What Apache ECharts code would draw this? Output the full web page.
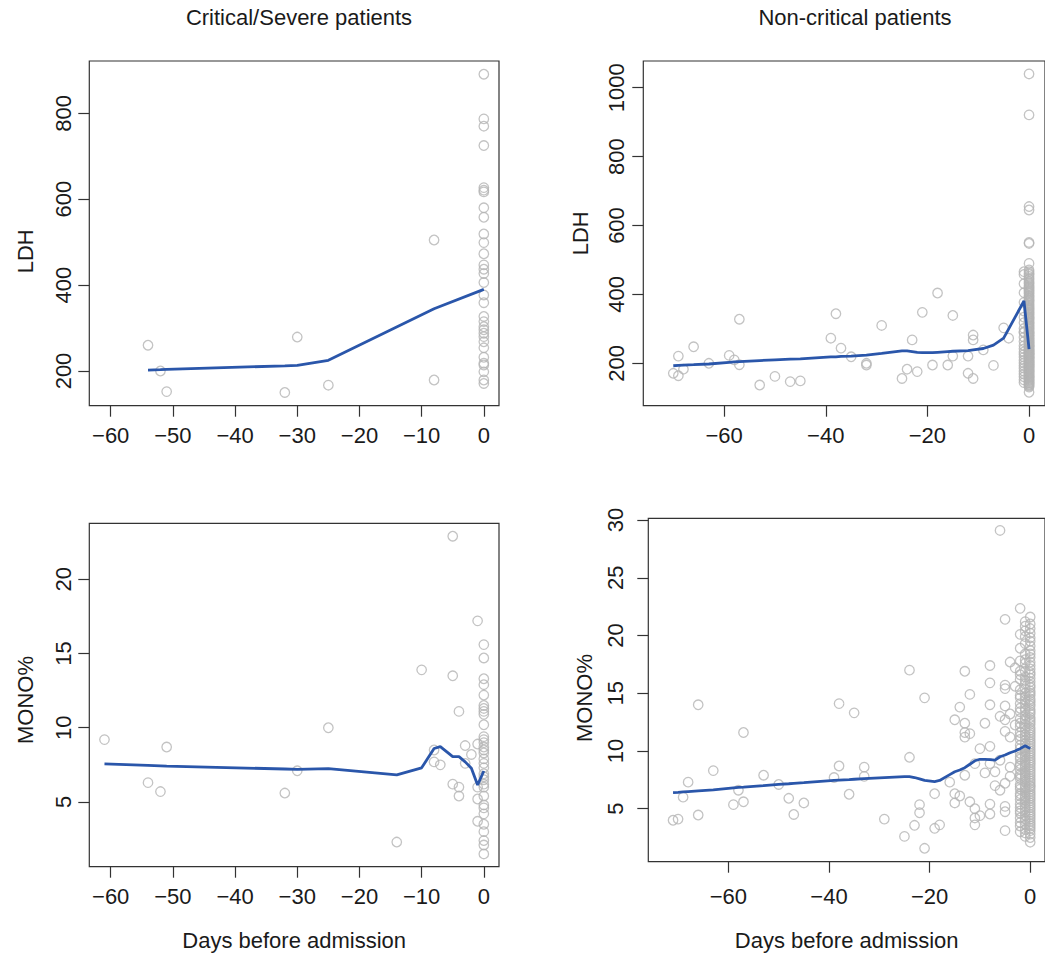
<!DOCTYPE html>
<html>
<head>
<meta charset="utf-8">
<script src="https://cdn.jsdelivr.net/npm/echarts@6/dist/echarts.min.js"></script>
<style>
html,body{margin:0;padding:0;background:#fff;}
#chart{width:1045px;height:955px;}
</style>
</head>
<body>
<div id="chart"></div>
<script>
// ---------- Titles / labels ----------
const panelTitles = ['Critical/Severe patients', 'Non-critical patients'];
const xAxisTitle = 'Days before admission';
const yAxisTitles = ['LDH', 'MONO%'];

// ---------- Tick labels ----------
const critXTicks = [-60, -50, -40, -30, -20, -10, 0];
const ncXTicks = [-60, -40, -20, 0];
const critLdhYTicks = [200, 400, 600, 800];
const ncLdhYTicks = [200, 400, 600, 800, 1000];
const critMonoYTicks = [5, 10, 15, 20];
const ncMonoYTicks = [5, 10, 15, 20, 25, 30];

// ---------- Critical/Severe: LDH ----------
const critLdhDays = [-54, -52, -51, -32, -30, -25, -8, -8];
const critLdhVals = [260, 200, 152, 150, 279, 167, 505, 179];
const critLdhDay0 = [891, 787, 770, 725, 627, 621, 617, 580, 558, 519, 499, 473, 447, 437, 427, 406,
  377, 359, 327, 315, 303, 296, 288, 280, 268, 254, 232, 218, 214, 198, 179, 171];
const critLdhFitDays = [-54, -52, -51, -32, -30, -25, -8, 0];
const critLdhFitVals = [202, 203, 204, 212, 213, 225, 345, 390];

// ---------- Critical/Severe: MONO% ----------
const critMonoDays = [-61, -54, -52, -51, -32, -30, -25, -14, -10, -8, -8, -7, -5, -5, -5, -4, -4, -4, -3, -3, -2, -1, -1, -1, -1, -1];
const critMonoVals = [9.2, 6.3, 5.7, 8.7, 5.6, 7.1, 10.0, 2.3, 13.9, 8.5, 7.7, 7.5, 22.9, 13.5, 6.2, 11.1, 6.0, 5.4, 8.8, 7.6, 8.2, 17.2, 8.9, 6.0, 5.2, 3.7];
const critMonoDay0 = [15.6, 14.7, 13.3, 12.9, 12.2, 11.5, 11.3, 11.1, 10.9, 10.2, 9.4, 9.2, 9.0, 8.7, 8.5, 8.3, 7.9,
  7.6, 7.3, 6.9, 6.7, 6.5, 6.2, 6.0, 5.4, 4.8, 4.6, 4.2, 3.5, 3.0, 2.4, 2.1, 1.5];
const critMonoFitDays = [-61, -54, -52, -51, -32, -30, -25, -14, -10, -8, -7, -5, -4, -3, -2, -1, 0];
const critMonoFitVals = [7.56, 7.46, 7.43, 7.41, 7.22, 7.2, 7.24, 6.82, 7.3, 8.6, 8.73, 8.05, 8.05, 7.7, 7.27, 6.14, 7.09];

// ---------- Non-critical: LDH ----------
const ncLdhDays = [-70, -69, -69, -68, -66, -63, -59, -58, -57, -57, -53, -50, -47, -45, -39, -38, -37, -35, -32, -32,
  -29, -25, -24, -23, -22, -21, -19, -18, -16, -15, -15, -12, -12, -11, -11, -11, -9, -7, -5, -4, -1, -1];
const ncLdhVals = [171, 221, 164, 183, 248, 200, 223, 210, 328, 196, 137, 162, 147, 149, 273, 344, 244, 219, 200, 195,
  310, 156, 183, 268, 176, 348, 195, 404, 195, 339, 221, 221, 171, 282, 268, 156, 239, 194, 303, 273, 466, 292];
const ncLdhDayM1 = [458, 431, 405, 377, 352, 334, 318, 301, 289, 276, 263, 251, 242, 233, 226, 218, 209, 201, 193,
  186, 177, 169, 161, 152, 144];
const ncLdhDay0 = [1040, 921, 655, 645, 551, 548, 490, 471, 466, 461, 458, 452, 447, 443, 438, 434, 431, 426, 422, 419,
  416, 412, 409, 405, 402, 397, 394, 390, 387, 383, 381, 377, 373, 369, 366, 362, 359, 356, 353, 349, 347, 343, 340,
  336, 333, 331, 328, 325, 321, 318, 316, 312, 309, 306, 303, 300, 298, 294, 291, 289, 287, 284, 281, 279, 276, 273,
  271, 268, 266, 263, 261, 259, 257, 254, 252, 250, 248, 246, 243, 241, 239, 237, 235, 233, 231, 229, 227, 226, 224,
  221, 219, 217, 216, 214, 211, 209, 207, 205, 203, 201, 199, 197, 195, 193, 191, 189, 187, 184, 183, 180, 178, 176,
  174, 171, 169, 167, 164, 162, 160, 158, 155, 153, 151, 149, 146, 144, 142, 139, 137, 134, 131, 116];
const ncLdhFitDays = [-70, -69, -68, -66, -63, -59, -58, -57, -53, -50, -47, -45, -39, -38, -37, -35, -32, -29, -25, -24,
  -23, -22, -21, -19, -18, -16, -15, -12, -11, -9, -7, -5, -4, -1, 0];
const ncLdhFitVals = [193, 194, 195, 196, 198, 203, 204, 205, 208, 210, 212, 213, 219, 219, 220, 221, 224, 229, 236, 236,
  234, 232, 231, 231, 232, 234, 235, 237, 239, 243, 253, 273, 300, 381, 241];

// ---------- Non-critical: MONO% ----------
const ncMonoDays = [-71, -70, -69, -68, -66, -66, -63, -59, -58, -57, -57, -53, -50, -48, -47, -45, -39, -38, -38, -36,
  -35, -33, -33, -29, -25, -24, -24, -23, -22, -22, -21, -21, -19, -19, -18, -16, -15, -15, -15, -14, -14, -13, -13, -13,
  -13, -13, -12, -12, -12, -11, -11, -11, -11, -10, -10, -9, -9, -8, -8, -8, -8, -8, -8, -8, -7, -7, -6, -6, -6, -6,
  -5, -5, -5, -5, -5, -5, -5, -5, -5, -5, -4, -4, -4, -4, -4, -3, -3, -3, -2, -2, -2, -2, -2, -1, -1];
const ncMonoVals = [4.0, 4.1, 6.0, 7.3, 14.0, 4.45, 8.3, 5.35, 6.6, 11.6, 5.6, 7.9, 7.1, 5.9, 4.5, 5.5, 7.7, 14.1, 8.7, 6.25,
  13.3, 8.6, 7.8, 4.1, 2.6, 17.0, 9.45, 3.56, 5.35, 4.65, 14.6, 1.57, 6.3, 3.3, 3.6, 7.3, 12.7, 6.3, 5.5, 13.8, 6.1, 16.9, 12.4, 11.6,
  11.2, 7.9, 14.9, 11.5, 5.6, 8.9, 5.0, 4.2, 3.6, 10.2, 4.4, 12.4, 8.1, 17.4, 15.9, 14.0, 10.4, 8.9, 5.4, 4.54, 8.2, 7.0, 29.1, 13.0, 9.2, 6.6,
  21.4, 15.7, 15.4, 13.9, 12.7, 11.7, 7.2, 5.2, 4.74, 3.1, 17.7, 13.2, 11.2, 8.6, 7.8, 17.2, 15.6, 12.25, 22.35, 16.6, 14.6, 4.6, 3.5, 20.8, 19.3];
const ncMonoDayM2 = [20.1, 18.9, 17.8, 16.9, 16.2, 15.3, 14.8, 14.1, 13.7, 13.4, 12.8, 12.4, 12.1, 11.6, 11.3, 11.0, 10.5,
  10.2, 9.8, 9.5, 9.3, 8.9, 8.7, 8.4, 8.0, 7.8, 7.6, 7.1, 6.9, 6.7, 6.3, 6.1, 5.8, 5.4, 5.1, 4.8, 4.2, 3.8, 3.0];
const ncMonoDayM1 = [21.2, 20.4, 19.9, 18.4, 17.9, 17.6, 16.9, 16.4, 16.1, 15.8, 15.4, 15.0, 14.7, 14.4, 14.1, 13.7, 13.5,
  13.1, 12.8, 12.6, 12.3, 12.0, 11.7, 11.4, 11.2, 10.9, 10.6, 10.3, 10.1, 9.9, 9.7, 9.5, 9.2, 9.0, 8.8, 8.6, 8.3, 8.1,
  7.9, 7.7, 7.5, 7.3, 7.0, 6.8, 6.6, 6.4, 6.1, 5.9, 5.7, 5.5, 5.2, 5.0, 4.7, 4.4, 4.1, 3.9, 3.6, 3.2, 2.9, 2.6];
const ncMonoDay0 = [21.6, 21.0, 20.6, 20.2, 19.8, 19.5, 19.1, 18.7, 18.4, 18.1, 17.7, 17.4, 17.1, 16.8, 16.6, 16.3, 16.0,
  15.7, 15.5, 15.2, 15.0, 14.8, 14.5, 14.3, 14.1, 13.9, 13.6, 13.4, 13.2, 12.9, 12.7, 12.5, 12.3, 12.0, 11.8, 11.6, 11.4,
  11.2, 11.0, 10.8, 10.6, 10.4, 10.2, 10.0, 9.8, 9.6, 9.4, 9.2, 9.0, 8.8, 8.6, 8.4, 8.2, 8.0, 7.8, 7.6, 7.4, 7.2, 7.0,
  6.9, 6.7, 6.5, 6.3, 6.1, 5.9, 5.7, 5.5, 5.3, 5.1, 4.9, 4.7, 4.5, 4.3, 4.1, 3.9, 3.7, 3.5, 3.3, 3.1, 2.8, 2.5, 2.1];
const ncMonoFitDays = [-71, -70, -69, -68, -66, -63, -59, -58, -57, -53, -50, -48, -47, -45, -39, -38, -36, -35, -33, -29,
  -25, -24, -23, -22, -21, -19, -18, -16, -15, -14, -13, -12, -11, -10, -9, -8, -7, -6, -5, -4, -3, -2, -1, 0];
const ncMonoFitVals = [6.4, 6.42, 6.45, 6.48, 6.54, 6.63, 6.8, 6.84, 6.87, 7.0, 7.1, 7.16, 7.2, 7.25, 7.45, 7.48, 7.52, 7.55, 7.6, 7.7,
  7.78, 7.78, 7.7, 7.58, 7.45, 7.35, 7.45, 7.95, 8.2, 8.35, 8.55, 8.85, 9.15, 9.28, 9.28, 9.25, 9.2, 9.5, 9.65, 9.85, 10.0, 10.2, 10.45, 10.2];

// ---------- helpers ----------
function pairs(xs, ys) { return xs.map((x, i) => [x, ys[i]]); }
function column(day, ys) { return ys.map(y => [day, y]); }

const FONT = "'Liberation Sans', Arial, Helvetica, sans-serif";
const TXT = '#1a1a1a';
const AXC = '#333333';
const PT = '#b4b4b4';
const LINE = '#2a56aa';

function minusFmt(v) { return v < 0 ? '\u2212' + Math.abs(v) : String(v); }

function xAxis(gi, min, max, ticks, name, labelMargin, nameGap) {
  return {
    type: 'value', gridIndex: gi, min: min, max: max,
    axisLine: { show: false, onZero: false }, splitLine: { show: false },
    axisTick: { show: true, inside: false, length: 11, customValues: ticks, lineStyle: { color: AXC, width: 1.2 } },
    axisLabel: { customValues: ticks, margin: labelMargin, fontSize: 22, color: TXT, fontFamily: FONT, formatter: minusFmt },
    name: name || '', nameLocation: 'middle', nameGap: nameGap,
    nameTextStyle: { fontSize: 22, color: TXT, fontFamily: FONT }
  };
}
// nameShift > 0 moves the rotated title down by that many pixels
function yAxis(gi, min, max, ticks, name, labelMargin, nameGap, nameShift) {
  const s = nameShift || 0;
  return {
    type: 'value', gridIndex: gi, min: min, max: max,
    axisLine: { show: false, onZero: false }, splitLine: { show: false },
    axisTick: { show: true, inside: false, length: 11, customValues: ticks, lineStyle: { color: AXC, width: 1.2 } },
    axisLabel: { customValues: ticks, rotate: 90, margin: labelMargin, fontSize: 22, color: TXT, fontFamily: FONT, formatter: minusFmt },
    name: name, nameLocation: 'middle', nameGap: nameGap, nameRotate: 90,
    nameTextStyle: { fontSize: 22, color: TXT, fontFamily: FONT, padding: s > 0 ? [0, 2 * s, 0, 0] : [0, 0, 0, -2 * s] }
  };
}
function scatter(gi, data) {
  return {
    type: 'scatter', xAxisIndex: gi, yAxisIndex: gi, data: data, symbol: 'circle', symbolSize: 9.5,
    itemStyle: { color: 'transparent', borderColor: PT, borderWidth: 1.3 }, silent: true, z: 2
  };
}
function fit(gi, data) {
  return {
    type: 'line', xAxisIndex: gi, yAxisIndex: gi, data: data, showSymbol: false, symbol: 'none', smooth: false,
    lineStyle: { color: LINE, width: 2.8 }, silent: true, z: 5
  };
}

const gridBase = { show: true, borderColor: AXC, borderWidth: 1.2, backgroundColor: 'transparent', containLabel: false };

const option = {
  backgroundColor: '#ffffff',
  animation: false,
  graphic: [
    { type: 'text', x: 299, y: 17, style: { text: panelTitles[0], fontSize: 22, fontFamily: FONT, fill: TXT, textAlign: 'center', textVerticalAlign: 'middle' } },
    { type: 'text', x: 855, y: 17, style: { text: panelTitles[1], fontSize: 22, fontFamily: FONT, fill: TXT, textAlign: 'center', textVerticalAlign: 'middle' } }
  ],
  grid: [
    Object.assign({ left: 89.3, top: 61, width: 409.7, height: 344.7 }, gridBase),
    Object.assign({ left: 643.3, top: 61, width: 409.7, height: 344.7 }, gridBase),
    Object.assign({ left: 89.3, top: 523.3, width: 409.7, height: 343.4 }, gridBase),
    Object.assign({ left: 648.3, top: 518.3, width: 409.7, height: 343.4 }, gridBase)
  ],
  xAxis: [
    xAxis(0, -63.44, 2.44, critXTicks, '', 19, 60),
    xAxis(1, -75.9, 3.14, ncXTicks, '', 19, 60),
    xAxis(2, -63.44, 2.44, critXTicks, xAxisTitle, 19, 63),
    xAxis(3, -75.92, 2.94, ncXTicks, xAxisTitle, 24, 68)
  ],
  yAxis: [
    yAxis(0, 119.2, 921.8, critLdhYTicks, yAxisTitles[0], 15, 53, 18),
    yAxis(1, 77, 1077.5, ncLdhYTicks, yAxisTitles[0], 16, 52, 0),
    yAxis(2, 0.64, 23.77, critMonoYTicks, yAxisTitles[1], 15, 53, 5),
    yAxis(3, 0.41, 30.15, ncMonoYTicks, yAxisTitles[1], 22, 53, 8)
  ],
  series: [
    scatter(0, pairs(critLdhDays, critLdhVals).concat(column(0, critLdhDay0))),
    fit(0, pairs(critLdhFitDays, critLdhFitVals)),
    scatter(1, pairs(ncLdhDays, ncLdhVals).concat(column(-1, ncLdhDayM1), column(0, ncLdhDay0))),
    fit(1, pairs(ncLdhFitDays, ncLdhFitVals)),
    scatter(2, pairs(critMonoDays, critMonoVals).concat(column(0, critMonoDay0))),
    fit(2, pairs(critMonoFitDays, critMonoFitVals)),
    scatter(3, pairs(ncMonoDays, ncMonoVals).concat(column(-2, ncMonoDayM2), column(-1, ncMonoDayM1), column(0, ncMonoDay0))),
    fit(3, pairs(ncMonoFitDays, ncMonoFitVals))
  ]
};

const chart = echarts.init(document.getElementById('chart'), null, { renderer: 'svg', width: 1045, height: 955 });
chart.setOption(option);
</script>
</body>
</html>
